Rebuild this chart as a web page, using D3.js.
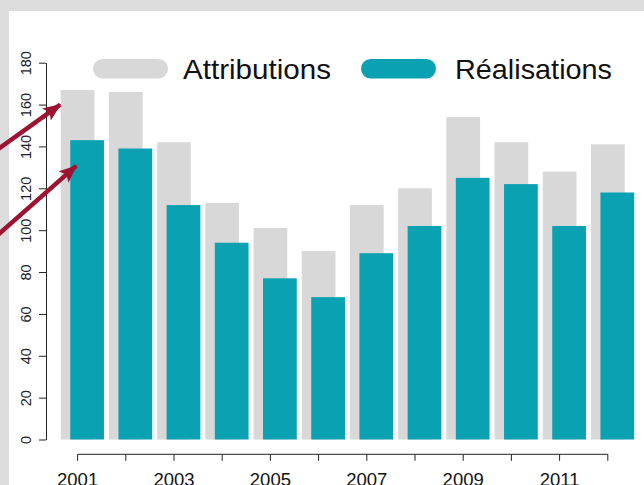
<!DOCTYPE html>
<html>
<head>
  <script src="https://d3js.org/d3.v7.min.js"></script>
  <style>
    body { margin: 0; }
    svg { display: block; font-family: "Liberation Sans", Arial, Helvetica, sans-serif; }
  </style>
</head>
<body>
<svg id="chart" width="644" height="485"></svg>
<script>
  let years = ["2001", "2002", "2003", "2004", "2005", "2006", "2007", "2008", "2009", "2010", "2011", "2012"],
    attributions = [167, 166, 142, 113, 101, 90, 112, 120, 154, 142, 128, 141],
    realisations = [143, 139, 112, 94, 77, 68, 89, 102, 125, 122, 102, 118],
    series_names = ["Attributions", "Réalisations"],
    y_ticks = [0, 20, 40, 60, 80, 100, 120, 140, 160, 180],
    x_labels = ["2001", "2003", "2005", "2007", "2009", "2011"];

  let width = 644,
    height = 485,
    colors = { attr: "#d8d8d8", real: "#0aa1b3", arrow: "#9e1232", frame: "#dcdcdc" },
    offset = 9.5;

  let svg = d3.select("#chart");

  // page frame
  svg.append("rect")
    .attr("width", width).attr("height", height)
    .attr("fill", colors.frame);
  svg.append("rect")
    .attr("x", 9).attr("y", 11)
    .attr("width", width - 9).attr("height", height - 11)
    .attr("fill", "white");

  let x = d3.scaleBand()
    .domain(years)
    .range([53.5, 631.9])
    .paddingInner(0.3)
    .paddingOuter(0.15);

  let y = d3.scaleLinear()
    .domain([0, 180])
    .range([439.5, 62.7]);

  // bars
  svg.append("g").selectAll("rect")
    .data(years).enter()
    .append("rect")
    .attr("x", d => x(d))
    .attr("width", x.bandwidth())
    .attr("y", (d, i) => y(attributions[i]))
    .attr("height", (d, i) => y(0) - y(attributions[i]))
    .attr("fill", colors.attr);

  svg.append("g").selectAll("rect")
    .data(years).enter()
    .append("rect")
    .attr("x", d => x(d) + offset)
    .attr("width", x.bandwidth())
    .attr("y", (d, i) => y(realisations[i]))
    .attr("height", (d, i) => y(0) - y(realisations[i]))
    .attr("fill", colors.real);

  // y axis
  let y_axis = svg.append("g")
    .attr("transform", "translate(46,0)")
    .call(d3.axisLeft(y).tickValues(y_ticks).tickSize(7).tickSizeOuter(0));
  y_axis.select(".domain").attr("stroke", "#222");
  y_axis.selectAll(".tick line").attr("stroke", "#222");
  y_axis.selectAll(".tick text")
    .attr("transform", "rotate(-90)")
    .attr("x", 0)
    .attr("y", -15.5)
    .attr("dy", 0)
    .attr("text-anchor", "middle")
    .attr("font-size", "14.5px")
    .attr("font-family", "Liberation Sans, Arial, sans-serif")
    .attr("fill", "#222");

  // x axis
  let x_axis = svg.append("g")
    .attr("transform", "translate(0,454.3)")
    .call(d3.axisBottom(x)
      .tickSize(6.5)
      .tickSizeOuter(0)
      .tickFormat(d => x_labels.indexOf(d) == -1 ? "" : d));
  x_axis.select(".domain").remove();
  x_axis.append("line")
    .attr("x1", x(years[0]) + x.bandwidth() / 2)
    .attr("x2", x(years[years.length - 1]) + x.bandwidth() / 2)
    .attr("stroke", "#222");
  x_axis.selectAll(".tick line").attr("stroke", "#222");
  x_axis.selectAll(".tick text")
    .attr("y", 31.5)
    .attr("dy", 0)
    .attr("font-size", "18.5px")
    .attr("font-family", "Liberation Sans, Arial, sans-serif")
    .attr("fill", "#111");

  // legend
  let legend = svg.append("g");
  let legend_pos = [{ px: 93, tx: 183, w: 148, fill: colors.attr }, { px: 361, tx: 455, w: 157, fill: colors.real }];
  legend.selectAll("rect")
    .data(series_names).enter()
    .append("rect")
    .attr("x", (d, i) => legend_pos[i].px)
    .attr("y", 59)
    .attr("width", 75)
    .attr("height", 19.5)
    .attr("rx", 9.75)
    .attr("fill", (d, i) => legend_pos[i].fill);
  legend.selectAll("text")
    .data(series_names).enter()
    .append("text")
    .attr("x", (d, i) => legend_pos[i].tx)
    .attr("y", 79.3)
    .attr("font-size", "28.5px")
    .attr("textLength", (d, i) => legend_pos[i].w)
    .attr("lengthAdjust", "spacingAndGlyphs")
    .attr("fill", "#111")
    .text(d => d);

  // arrows
  svg.append("defs").append("marker")
    .attr("id", "head")
    .attr("markerUnits", "userSpaceOnUse")
    .attr("viewBox", "0 0 18 15")
    .attr("refX", 17).attr("refY", 7.5)
    .attr("markerWidth", 18).attr("markerHeight", 15)
    .attr("orient", "auto")
    .append("path")
    .attr("d", "M0,0 L18,7.5 L0,15 L4,7.5 Z")
    .attr("fill", colors.arrow);

  let tips = [
    { x: x("2001") + 2.5, y: y(161), slope: 0.716 },
    { x: x("2001") + offset + 9, y: y(132), slope: 0.88 }
  ];
  svg.append("g").selectAll("line")
    .data(tips).enter()
    .append("line")
    .attr("x1", -10)
    .attr("y1", d => d.y + (d.x + 10) * d.slope)
    .attr("x2", d => d.x - 3)
    .attr("y2", d => d.y + 3 * d.slope)
    .attr("stroke", colors.arrow)
    .attr("stroke-width", 4.5)
    .attr("marker-end", "url(#head)");
</script>
</body>
</html>
